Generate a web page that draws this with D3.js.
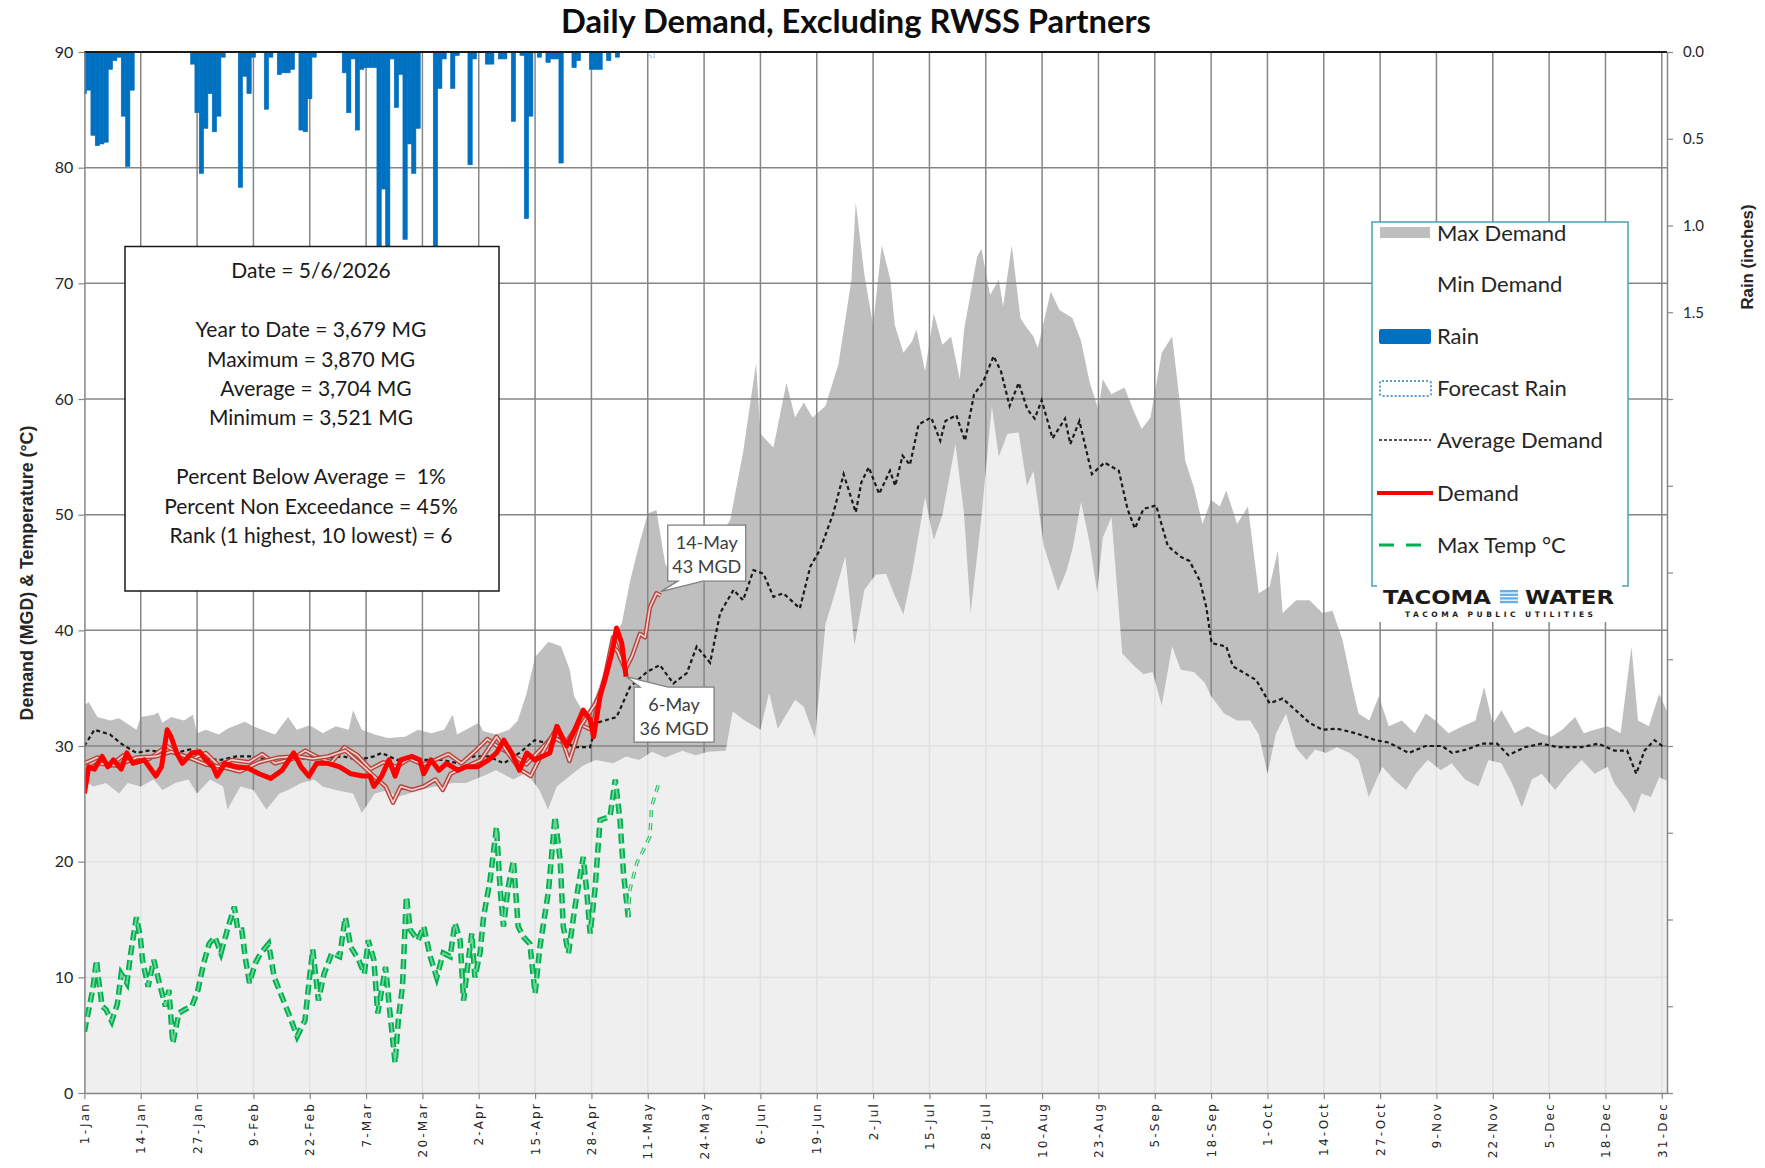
<!DOCTYPE html>
<html>
<head>
<meta charset="utf-8">
<title>Daily Demand, Excluding RWSS Partners</title>
<script src="https://cdn.jsdelivr.net/npm/d3@7"></script>
<style>
    body { margin: 0; background: #fff; }
    svg { display: block; font-family: Lato, 'Open Sans', sans-serif; }
</style>
</head>
<body>
<div id="chart"></div>
<script>
// x values are day of year, 0 = 1-Jan
const tickLabels = ['1-Jan', '14-Jan', '27-Jan', '9-Feb', '22-Feb', '7-Mar', '20-Mar', '2-Apr', '15-Apr',
    '28-Apr', '11-May', '24-May', '6-Jun', '19-Jun', '2-Jul', '15-Jul', '28-Jul', '10-Aug', '23-Aug',
    '5-Sep', '18-Sep', '1-Oct', '14-Oct', '27-Oct', '9-Nov', '22-Nov', '5-Dec', '18-Dec', '31-Dec'];

const maxDemand = [
    [0, 33.5], [1, 33.8], [3, 32.5], [6, 32.2], [8, 32.4], [12, 31.4], [13, 32.5], [16, 32.7], [17, 32.9],
    [18, 32], [20, 32.5], [23, 32.2], [25, 32.7], [26, 31.1], [28, 31.4], [31, 31], [33, 31.5], [37, 32.1],
    [39, 31.7], [41, 31.4], [44, 31], [47, 32.5], [49, 31.4], [52, 31.8], [55, 31.1], [58, 31.7], [61, 31.4],
    [62, 33.1], [64, 31.4], [67, 31], [70, 30.7], [74, 30.8], [77, 31.4], [80, 31.1], [83, 31.4], [85, 32.7],
    [86, 31], [88, 31.4], [91, 32], [92, 31.3], [95, 31], [98, 31.4], [100, 32.2], [102, 34.5], [104, 37.7],
    [107, 39], [108, 38.9], [110, 38.6], [112, 36.6], [113, 34.3], [115, 33], [116, 32.9], [118, 34.3],
    [120, 36.6], [122, 39.2], [124, 40.6], [126, 44.4], [128, 47.4], [130, 50.1], [132, 50.4], [134, 45.8],
    [136, 44.5], [138, 43.8], [140, 44.5], [143, 46], [146, 48], [149, 49.5], [152, 55.4], [155, 63.1],
    [156, 57], [159, 55.8], [162, 61.4], [164, 58.4], [166, 59.7], [168, 58.4], [171, 59.4], [174, 63],
    [177, 70.3], [178, 77], [180, 70.7], [182, 66.4], [184, 73.3], [186, 70.3], [187, 66.4], [189, 64],
    [191, 65], [192, 66], [194, 62.4], [196, 67.4], [198, 64.7], [200, 65.4], [202, 61.7], [203, 66],
    [206, 72.3], [207, 73], [209, 69], [211, 70.3], [212, 68], [214, 73.3], [216, 67], [217, 66.4],
    [219, 65.4], [220, 64.4], [223, 69.3], [225, 67.7], [228, 67], [230, 65], [232, 61.4], [234, 59.1],
    [235, 61.7], [237, 60.4], [240, 61], [242, 59.1], [244, 57.4], [246, 58.4], [248.6, 64], [251, 65.4],
    [253, 59], [254, 54.7], [256, 52.4], [258, 49.2], [260, 51.3], [262, 50.7], [263.5, 52.1], [266, 49.2],
    [268.5, 50.7], [271, 43.2], [273.5, 43.8], [275.4, 46.9], [276.5, 41.5], [279.6, 42.6], [282.7, 42.6],
    [285.7, 41.5], [288, 41.7], [290.3, 39.2], [292.6, 35.1], [294, 32.8], [296.5, 32.2], [298.7, 34.3],
    [301, 31.7], [304, 32.2], [307, 31.1], [309.5, 32.8], [311.7, 32.2], [314.8, 31.1], [318, 31.7],
    [321, 32.2], [323, 35.1], [325, 31.9], [327, 33.1], [330, 31.1], [333, 31.7], [336, 31.1], [338.5, 30.8],
    [341, 31.4], [344, 32.5], [346, 31.1], [348.5, 31.4], [351.5, 31.7], [354.5, 31.1], [357, 38.6],
    [358.5, 32.2], [361, 31.7], [363.4, 34.5], [365.2, 33]
];

const minDemand = [
    [0, 27.1], [2, 26.5], [5, 26.8], [8, 25.9], [10, 26.8], [13, 26.5], [16, 27.1], [18, 26.2], [21, 26.8],
    [24, 27.1], [26, 25.9], [29, 27.1], [32, 26.5], [33, 24.5], [36, 26.5], [39, 26.2], [42, 24.5], [45, 25.9],
    [47, 26.2], [50, 26.8], [53, 27.1], [55, 26.5], [58, 26.2], [62, 25.9], [64, 24.2], [67, 25.9], [70, 26.2],
    [72, 25.6], [75, 25.9], [77, 26.2], [81, 26.5], [85, 26.8], [88, 26.8], [92, 27.4], [95, 27.9], [99, 27.1],
    [102, 27.7], [105, 26.2], [107, 24.5], [109, 26.5], [112, 27.4], [115, 28.3], [118, 28.8], [122, 28.5],
    [125, 29.1], [128, 28.8], [131, 29.5], [134, 29], [138, 29.6], [141, 29.2], [144, 29.5], [148, 29.6],
    [149.6, 33], [152, 32.3], [156, 31.4], [158, 34.6], [160, 31.5], [164, 34], [166, 33.4], [168.6, 30.7],
    [171, 40.5], [173, 43], [175.6, 46.4], [177.7, 38.7], [180, 43.5], [182.6, 44.8], [185, 44.9], [187, 43],
    [189, 41.4], [191, 45], [194, 51.5], [196, 47.8], [198, 50], [201, 56.1], [203, 50], [204.5, 41.5],
    [207, 49.8], [209.4, 59.4], [211, 55], [213, 57], [215.6, 57.1], [217.5, 52.5], [219, 53.8], [221.4, 47.3],
    [224.7, 43.4], [226.5, 45], [228, 47], [230, 51.1], [232, 47.5], [233.7, 43.3], [235, 48], [237, 49.8],
    [239.5, 38], [242, 37], [244.4, 36.2], [246.5, 36.4], [248.6, 33.5], [251, 38.6], [253, 36.6], [256, 36.4],
    [258.5, 35.5], [260, 34.3], [263, 32.8], [266, 32.2], [269, 32.2], [271, 31], [273, 27.6], [275, 31.1],
    [277.3, 32.8], [279.5, 29.9], [282, 28.8], [284, 29.7], [286.5, 29.4], [289, 29.9], [292, 29.4], [294, 28.8],
    [296.4, 25.6], [299.5, 28.2], [302.5, 27], [305, 26.2], [307.2, 27.6], [310, 28.8], [313, 27.9],
    [315.5, 28.5], [318.6, 27.1], [321.7, 26.5], [324, 28.8], [327, 28.5], [329.4, 26.8], [331.7, 24.7],
    [334, 27.1], [336.3, 27.6], [339.4, 26.2], [342.4, 27.6], [345.5, 28.8], [348.5, 27.6], [351.5, 28.2],
    [353, 26.8], [356, 25.3], [357.7, 24.2], [359.3, 25.9], [361.5, 25.6], [363.4, 27.3], [365.2, 27]
];

const avgDemand = [
    [0, 30], [2.3, 31.4], [5.9, 31], [8.5, 30.2], [12, 29.4], [14.7, 29.6], [18.2, 29.5], [20.9, 29.4],
    [24.4, 29.7], [28, 28.9], [31.5, 28.8], [35, 29.1], [38.5, 29.1], [42, 28.8], [45.6, 29.1], [49.1, 28.8],
    [52.7, 29.1], [56.2, 29], [59.7, 29.1], [63.3, 28.8], [66.8, 29.1], [68.6, 29.4], [72.1, 28.8], [75.6, 28.8],
    [79.2, 28.8], [82.7, 28.8], [86.2, 28.5], [89.8, 29.1], [93.3, 29.1], [96.8, 28.5], [100.4, 29.4],
    [103.9, 30.5], [107.4, 30.2], [110.1, 30.8], [112.8, 29.9], [116.7, 29.9], [118.2, 32], [122.8, 32.5],
    [125.9, 35.1], [129.8, 36.4], [132.8, 37], [135.9, 35.4], [139, 36.3], [141.3, 38.6], [144.4, 37.2],
    [146.7, 41.5], [149.8, 43.5], [152, 42.6], [154.4, 45.2], [156.7, 44.9], [159, 42.9], [161.3, 43.2],
    [165.1, 41.9], [167.5, 45.5], [169.8, 47], [172.8, 50.1], [175.2, 53.5], [178, 50.2], [179.3, 52.8],
    [181, 54.1], [183.4, 51.8], [185.9, 53.8], [187.1, 52.5], [188.8, 55.1], [190.5, 54.3], [192.5, 57.8],
    [195.4, 58.4], [197.5, 56.4], [198.7, 58.1], [201.2, 58.6], [203.2, 56.4], [205.3, 60.4], [207.3, 61.4],
    [209.8, 63.7], [211.5, 62.4], [213.5, 59.4], [215.6, 61.4], [217.6, 59.1], [219.3, 58.3], [220.9, 59.9],
    [223.4, 56.6], [226.3, 58.3], [227.5, 56.1], [229.6, 58.1], [232.5, 53.5], [235.4, 54.5], [238.7, 53.8],
    [240.7, 50.5], [242.4, 48.8], [244.4, 50.5], [247.3, 50.8], [250, 47.3], [252.8, 46.4], [255, 46],
    [257.4, 44.3], [258.9, 42], [260.1, 38.9], [263.5, 38.6], [265, 36.9], [270.4, 35.7], [273.5, 33.7],
    [276.5, 34.1], [280.4, 32.8], [282.7, 32], [285.7, 31.4], [289, 31.5], [293.4, 31.1], [298, 30.5],
    [301, 30.3], [305.6, 29.4], [309.5, 30], [313.3, 30], [315.6, 29.4], [319, 29.7], [322.5, 30.2],
    [326, 30.2], [328.6, 29.2], [332.4, 29.9], [336.3, 30.2], [340, 29.9], [345.5, 29.9], [349.3, 30.2],
    [353.1, 29.6], [356, 29.6], [358.1, 27.6], [360, 29.6], [362.3, 30.5], [364.5, 29.9]
];

const demand = [
    [0, 25.9], [1, 28.2], [2.3, 28], [4.1, 29.1], [5.4, 28.2], [6.7, 28.8], [8.5, 28], [9.8, 29.4], [11.2, 28.5],
    [13.8, 28.8], [16.5, 27.4], [17.8, 28.2], [19.1, 31.4], [20, 30.8], [21.3, 29.4], [22.6, 28.5], [24.8, 29.4],
    [26.6, 29.5], [28, 28.8], [29.7, 28.2], [30.6, 27.4], [32.4, 28.5], [35, 28.2], [37.7, 28.1], [40.3, 27.6],
    [43, 27.2], [45.6, 27.9], [48.3, 29.4], [50, 28.2], [51.8, 27.4], [53.6, 28.5], [56.2, 28.5], [58.9, 28.2],
    [61.5, 27.6], [64.2, 27.4], [65.9, 27.4], [66.8, 26.5], [68.6, 27.4], [70.3, 28.8], [71.7, 27.4], [73, 28.8],
    [75.6, 29.1], [77.4, 28.8], [78.3, 27.6], [80, 28.8], [81.8, 27.9], [83.6, 28.5], [86.2, 27.9], [88, 28.2],
    [90.7, 28.2], [93.3, 28.8], [95.1, 29.4], [96.8, 30.5], [98.6, 29.4], [100.4, 27.9], [102.1, 29.4],
    [103.9, 28.8], [107.4, 29.4], [109, 31.7], [111.3, 30], [112.8, 31.1], [115.1, 33.1], [116.7, 32.3],
    [117.5, 30.8], [119, 34.3], [120.5, 36.3], [121.7, 38], [122.8, 40.2], [124, 38.9], [125, 36]
];

// outlined demand traces (one runs on to the 14-May forecast)
const forecastDemand = [
    [0, 27.8], [3.2, 28.5], [7.6, 28.3], [12, 29], [16.5, 29.1], [20, 29.5], [23.5, 29.1], [28, 28.4],
    [31.5, 28.2], [35.9, 27.8], [40.3, 28.6], [44.7, 29], [49.1, 29.1], [52.7, 28.9], [56.2, 29.1], [60.2, 29.6],
    [64.2, 28.3], [66.8, 27.4], [69.5, 26.5], [71.2, 25.1], [73, 26.5], [75.6, 26.2], [78.3, 26.5], [81, 27.1],
    [82.7, 26.2], [84.5, 27.6], [88, 28.2], [91.5, 28.8], [95.1, 30.8], [96.8, 29.9], [100.4, 28], [103, 27.4],
    [105.7, 29.4], [109.2, 31.7], [111.9, 28.7], [114.5, 31.7], [118, 33.7], [120, 35.5], [122, 38.6],
    [123, 38.2], [124.8, 36.6], [126.3, 37.7], [128.2, 39.7], [129.4, 39.4], [130.5, 42], [132, 43.2], [133, 43]
];
const lastYearDemand = [
    [0, 28.5], [3, 29], [6, 28.3], [9, 29.2], [12, 28.6], [15, 28.9], [19, 30], [22, 29.2], [25, 28.9],
    [28, 29.4], [31, 28.3], [34, 28.8], [38, 28.6], [41, 29.3], [44, 28.5], [48, 28.9], [51, 29.6], [54, 29],
    [57, 28.6], [60, 29.9], [63, 29.2], [66, 28], [69, 28.6], [72, 28.2], [75, 28.9], [78, 28.4], [81, 28.8],
    [84, 29.3], [87, 28.5], [90, 29.5], [93, 30.6], [96, 29.8], [99, 29.2], [102, 28.4], [105, 29.6],
    [108, 30.8], [111, 30.2], [114, 31.9], [117, 31.4], [120, 35.8], [122, 39.4], [123.5, 38], [125, 36.5]
];

const maxTemp = [
    [0, 5.3], [1, 7.2], [1.9, 8.9], [2.8, 11.5], [3.2, 10], [4.1, 7.5], [5, 7.2], [6.3, 6.2], [7.6, 7.7],
    [8.5, 10.3], [9.8, 9.5], [10.7, 12.1], [12, 15.2], [12.9, 13.5], [13.4, 11.5], [14.7, 9.2], [16, 11.5],
    [17.3, 9.5], [18.7, 7.5], [19.5, 8.9], [20.4, 4.3], [21.8, 6.9], [23.1, 7.2], [24.8, 7.5], [26.2, 8.9],
    [27.5, 11.2], [28.8, 12.9], [30.1, 13.5], [31.5, 12.1], [33.2, 14.4], [34.6, 16.1], [35.4, 14.1],
    [36.3, 14.1], [37.2, 11.5], [38.1, 9.5], [39.4, 11.2], [40.7, 12.1], [42.5, 12.9], [43.8, 10], [45.6, 8.3],
    [47.4, 6.6], [49.1, 4.9], [50.9, 6.3], [51.8, 9.5], [52.7, 12.4], [54, 8], [55.3, 10.3], [57.1, 12.1],
    [58.9, 11.8], [60.2, 15.2], [61.5, 12.6], [63.3, 11.5], [64.6, 10.3], [65.5, 13.2], [66.8, 11.5],
    [67.7, 6.9], [69.5, 10.9], [70.3, 7.7], [71.7, 2.6], [72.5, 6.6], [73.4, 9.2], [74.3, 17], [75.2, 14.1],
    [77, 13.2], [78.3, 14.4], [79.8, 11.8], [81.3, 10], [82.8, 12.1], [84.4, 11.8], [85.5, 14.7], [86.7, 13.2],
    [87.5, 8], [88.6, 11.5], [89.4, 13.8], [90.1, 10], [91.3, 12.1], [92.1, 15.2], [93.6, 18.4], [95.1, 23],
    [95.9, 17.8], [96.7, 14.4], [97.8, 17.8], [99, 20.1], [100.1, 14.4], [101.3, 13.5], [102.8, 12.9],
    [104, 8.6], [105.1, 12.6], [107.1, 17.5], [108.6, 23.9], [109.8, 20.1], [110.5, 14.4], [111.7, 12.1],
    [113.2, 16.1], [115.1, 20.4], [115.9, 17.5], [116.7, 13.8], [117.8, 17.5], [119, 23.6], [121.3, 23.9],
    [122.5, 27.1], [123.6, 23.6], [124.4, 19], [125.5, 15.2]
];
const forecastTemp = [[125.5, 15.2], [125.9, 17.6], [127.5, 19.9], [129, 21], [130.5, 22.2], [130.9, 24.8], [132.4, 26.6]];

// rain in inches per day
const rain = [
    [0, 0.24], [1, 0.22], [2, 0.48], [3, 0.54], [4, 0.53], [5, 0.52], [6, 0.1], [7, 0.05], [8, 0.03], [9, 0.37],
    [10, 0.66], [11, 0.22], [25, 0.07], [26, 0.35], [27, 0.7], [28, 0.44], [29, 0.24], [30, 0.46], [31, 0.37],
    [32, 0.03], [36, 0.78], [37, 0.14], [38, 0.24], [39, 0.03], [42, 0.33], [43, 0.03], [45, 0.13], [46, 0.12],
    [47, 0.12], [48, 0.1], [50, 0.45], [51, 0.46], [52, 0.27], [53, 0.03], [60, 0.12], [61, 0.35], [62, 0.04],
    [63, 0.45], [64, 0.1], [65, 0.09], [66, 0.09], [67, 0.09], [68, 1.35], [69, 0.79], [70, 1.3], [71, 0.04],
    [72, 0.32], [73, 0.13], [74, 1.08], [75, 0.53], [76, 0.7], [77, 0.44], [81, 1.25], [82, 0.21], [83, 0.04],
    [85, 0.21], [86, 0.02], [89, 0.65], [90, 0.04], [93, 0.07], [94, 0.07], [96, 0.04], [97, 0.04], [99, 0.4],
    [101, 0.02], [102, 0.96], [103, 0.37], [105, 0.03], [107, 0.06], [108, 0.04], [109, 0.04], [110, 0.64],
    [113, 0.09], [114, 0.05], [117, 0.1], [118, 0.1], [119, 0.1], [121, 0.05], [123, 0.03]
];
const forecastRain = [[131, 0.03]];

const infoLines = ['Date = 5/6/2026', '', 'Year to Date = 3,679 MG', 'Maximum = 3,870 MG', '  Average = 3,704 MG',
    'Minimum = 3,521 MG', '', 'Percent Below Average =  1%', 'Percent Non Exceedance = 45%',
    'Rank (1 highest, 10 lowest) = 6'];
const callouts = [
    { day: 133, value: 43, label: ['14-May', '43 MGD'] },
    { day: 125, value: 36, label: ['6-May', '36 MGD'] }
];
const legendLabels = ['Max Demand', 'Min Demand', 'Rain', 'Forecast Rain', 'Average Demand', 'Demand', 'Max Temp °C'];

const chartWidth = 1765;
const chartHeight = 1168;
const plot = { left: 84.4, right: 1667, top: 52, bottom: 1093 };
const gridColor = '#868686';

const svg = d3.select('#chart')
    .append('svg')
    .attr('width', chartWidth)
    .attr('height', chartHeight);

// scales
const xScale = d3.scaleLinear()
    .domain([0, 365.2])
    .range([plot.left, plot.right]);

const yScale = d3.scaleLinear()
    .domain([0, 90])
    .range([plot.bottom, plot.top]);

// rain axis runs downward from the top
const rainScale = d3.scaleLinear()
    .domain([0, 6])
    .range([plot.top, plot.bottom]);

svg.append('clipPath')
    .attr('id', 'plot-clip')
    .append('rect')
    .attr('x', plot.left)
    .attr('y', plot.top)
    .attr('width', plot.right - plot.left)
    .attr('height', plot.bottom - plot.top);

const area = d3.area()
    .x((d) => xScale(d[0]))
    .y0(yScale(0))
    .y1((d) => yScale(d[1]));

const line = d3.line()
    .x((d) => xScale(d[0]))
    .y((d) => yScale(d[1]));

const g = svg.append('g').attr('clip-path', 'url(#plot-clip)');

g.append('path')
    .datum(maxDemand)
    .attr('d', area)
    .attr('fill', '#bfbfbf');

// grid
const tickDays = tickLabels.map((d, i) => i * 13);

g.append('g').selectAll('line')
    .data(tickDays.slice(1))
    .enter()
    .append('line')
    .attr('x1', (d) => xScale(d))
    .attr('x2', (d) => xScale(d))
    .attr('y1', plot.top)
    .attr('y2', plot.bottom)
    .attr('stroke', gridColor)
    .attr('stroke-width', 1.5);

g.append('g').selectAll('line')
    .data(d3.range(10, 90, 10))
    .enter()
    .append('line')
    .attr('x1', plot.left)
    .attr('x2', plot.right)
    .attr('y1', (d) => yScale(d))
    .attr('y2', (d) => yScale(d))
    .attr('stroke', gridColor)
    .attr('stroke-width', 1.5);

// min demand washes the lower part out
g.append('path')
    .datum(minDemand)
    .attr('d', area)
    .attr('fill', '#fff')
    .attr('fill-opacity', 0.75);

const barW = xScale(1) - xScale(0);

g.append('g').selectAll('rect')
    .data(rain)
    .enter()
    .append('rect')
    .attr('x', (d) => xScale(d[0]) - barW / 2)
    .attr('y', rainScale(0))
    .attr('width', barW)
    .attr('height', (d) => rainScale(d[1]) - rainScale(0))
    .attr('fill', '#0070c0')
    .attr('stroke', '#0070c0')
    .attr('stroke-width', 0.6);

g.append('g').selectAll('rect')
    .data(forecastRain)
    .enter()
    .append('rect')
    .attr('x', (d) => xScale(d[0]) - barW / 2)
    .attr('y', rainScale(0))
    .attr('width', barW)
    .attr('height', (d) => rainScale(d[1]) - rainScale(0))
    .attr('fill', 'none')
    .attr('stroke', '#5b9bd5')
    .attr('stroke-dasharray', '1.5,1.5');

// temperature, dashed with a light core
g.append('path')
    .datum(maxTemp)
    .attr('d', line)
    .attr('fill', 'none')
    .attr('stroke', '#00b050')
    .attr('stroke-width', 5.5)
    .attr('stroke-dasharray', '10,5');
g.append('path')
    .datum(maxTemp)
    .attr('d', line)
    .attr('fill', 'none')
    .attr('stroke', '#6fd596')
    .attr('stroke-width', 1.8)
    .attr('stroke-dasharray', '10,5');
g.append('path')
    .datum(forecastTemp)
    .attr('d', line)
    .attr('fill', 'none')
    .attr('stroke', '#2fc06a')
    .attr('stroke-width', 3.5)
    .attr('stroke-dasharray', '7,6');
g.append('path')
    .datum(forecastTemp)
    .attr('d', line)
    .attr('fill', 'none')
    .attr('stroke', '#d4f3df')
    .attr('stroke-width', 1.2)
    .attr('stroke-dasharray', '7,6');

g.append('path')
    .datum(avgDemand)
    .attr('d', line)
    .attr('fill', 'none')
    .attr('stroke', '#1a1a1a')
    .attr('stroke-width', 2.2)
    .attr('stroke-dasharray', '4,3');

[lastYearDemand, forecastDemand].forEach((series) => {
    g.append('path')
        .datum(series)
        .attr('d', line)
        .attr('fill', 'none')
        .attr('stroke', '#b5463f')
        .attr('stroke-width', 4.5)
        .attr('stroke-linejoin', 'round');
    g.append('path')
        .datum(series)
        .attr('d', line)
        .attr('fill', 'none')
        .attr('stroke', '#f6d2cf')
        .attr('stroke-width', 1.6)
        .attr('stroke-linejoin', 'round');
});

g.append('path')
    .datum(demand)
    .attr('d', line)
    .attr('fill', 'none')
    .attr('stroke', '#ff0000')
    .attr('stroke-width', 5)
    .attr('stroke-linejoin', 'round');

svg.append('line')
    .attr('x1', plot.left)
    .attr('x2', plot.right)
    .attr('y1', plot.top)
    .attr('y2', plot.top)
    .attr('stroke', '#1a1a1a')
    .attr('stroke-width', 2);

// axes
const styleAxis = (sel) => {
    sel.selectAll('.domain').attr('stroke', gridColor).attr('stroke-width', 1.5);
    sel.selectAll('.tick line').attr('stroke', gridColor).attr('stroke-width', 1.2);
    sel.selectAll('text').attr('fill', '#262626');
};

svg.append('g')
    .attr('transform', `translate(${plot.left}, 0)`)
    .call(d3.axisLeft(yScale).tickValues(d3.range(0, 91, 10)).tickSize(6).tickSizeOuter(0).tickPadding(5))
    .call(styleAxis)
    .selectAll('text')
    .attr('font-family', 'Lato, sans-serif')
    .attr('font-size', 16);

svg.append('g')
    .attr('transform', `translate(${plot.right}, 0)`)
    .call(d3.axisRight(rainScale)
        .tickValues(d3.range(0, 6.01, 0.5))
        .tickFormat((d) => (d <= 1.5 ? d3.format('.1f')(d) : ''))
        .tickSize(6)
        .tickSizeOuter(0)
        .tickPadding(10))
    .call(styleAxis)
    .selectAll('text')
    .attr('font-family', 'Lato, sans-serif')
    .attr('font-size', 15);

svg.append('g')
    .attr('transform', `translate(0, ${plot.bottom})`)
    .call(d3.axisBottom(xScale)
        .tickValues(tickDays)
        .tickFormat((d, i) => tickLabels[i])
        .tickSize(6)
        .tickSizeOuter(0))
    .call(styleAxis)
    .selectAll('text')
    .attr('font-family', 'DejaVu Sans, sans-serif')
    .attr('font-size', 12)
    .style('letter-spacing', '2.2px')
    .attr('transform', 'rotate(-90)')
    .attr('x', -9)
    .attr('y', 0)
    .attr('dy', '0.35em')
    .style('text-anchor', 'end');

// stretch a text so its width matches the reference
const fitWidth = (sel, w) => {
    const cur = sel.node().getComputedTextLength();
    sel.attr('font-size', parseFloat(sel.attr('font-size')) * w / cur);
};

svg.append('text')
    .attr('x', 856)
    .attr('y', 33)
    .attr('text-anchor', 'middle')
    .attr('font-size', 28)
    .attr('font-weight', 'bold')
    .attr('fill', '#0d0d0d')
    .text('Daily Demand, Excluding RWSS Partners')
    .call(fitWidth, 590);

svg.append('text')
    .attr('transform', 'translate(33, 573) rotate(-90)')
    .attr('text-anchor', 'middle')
    .attr('font-family', 'Liberation Sans, Arial, sans-serif')
    .attr('font-size', 15)
    .attr('font-weight', 'bold')
    .attr('fill', '#262626')
    .text('Demand (MGD) & Temperature (°C)')
    .call(fitWidth, 295);

svg.append('text')
    .attr('transform', 'translate(1753, 257) rotate(-90)')
    .attr('text-anchor', 'middle')
    .attr('font-family', 'Liberation Sans, Arial, sans-serif')
    .attr('font-size', 14)
    .attr('font-weight', 'bold')
    .attr('fill', '#262626')
    .text('Rain (inches)')
    .call(fitWidth, 105);

// info box
svg.append('rect')
    .attr('x', 125)
    .attr('y', 246.5)
    .attr('width', 374)
    .attr('height', 344.5)
    .attr('fill', '#fff')
    .attr('stroke', '#1a1a1a')
    .attr('stroke-width', 1.5);

const info = svg.append('g')
    .attr('font-size', 21)
    .attr('fill', '#1a1a1a')
    .attr('text-anchor', 'middle');

// keep the double spaces the workbook uses
info.selectAll('text')
    .data(infoLines)
    .enter()
    .append('text')
    .attr('x', 311)
    .attr('y', (d, i) => 271 + i * 29.4)
    .attr('dy', '0.35em')
    .text((d) => d.replace(/ {2}/g, '\u00a0\u00a0'));

// callouts
callouts.forEach((c, i) => {
    const ax = xScale(c.day);
    const ay = yScale(c.value);
    let box;
    let shape;
    if (i === 0) {
        box = { x: ax + 7, y: ay - 70.5, w: 78, h: 56 };
        shape = `M${box.x},${box.y}H${box.x + box.w}V${box.y + box.h}H${ax + 42}L${ax},${ay - 4}`
            + `L${ax + 17},${box.y + box.h}H${box.x}Z`;
    } else {
        box = { x: ax + 8, y: ay + 10.5, w: 80, h: 55 };
        shape = `M${box.x},${box.y}H${ax + 14}L${ax},${ay}L${ax + 42},${box.y}H${box.x + box.w}`
            + `V${box.y + box.h}H${box.x}Z`;
    }
    svg.append('path')
        .attr('d', shape)
        .attr('fill', '#fff')
        .attr('stroke', '#7f7f7f')
        .attr('stroke-width', 1.3);
    svg.append('g')
        .selectAll('text')
        .data(c.label)
        .enter()
        .append('text')
        .attr('x', box.x + box.w / 2)
        .attr('y', (d, j) => box.y + 17.5 + j * 24)
        .attr('dy', '0.35em')
        .attr('text-anchor', 'middle')
        .attr('font-size', 18)
        .attr('fill', '#404040')
        .text((d) => d);
});

// legend
svg.append('rect')
    .attr('x', 1372)
    .attr('y', 222)
    .attr('width', 256)
    .attr('height', 364)
    .attr('fill', '#fff')
    .attr('stroke', '#4f9fb8')
    .attr('stroke-width', 1.5);

const legendY = [233, 284, 336, 388, 440, 493, 545];
const legend = svg.append('g');

legend.selectAll('text')
    .data(legendLabels)
    .enter()
    .append('text')
    .attr('x', 1437)
    .attr('y', (d, i) => legendY[i])
    .attr('dy', '0.35em')
    .attr('font-size', 22)
    .attr('fill', '#262626')
    .text((d) => d);

legend.append('rect').attr('x', 1380).attr('y', legendY[0] - 6).attr('width', 50).attr('height', 11)
    .attr('fill', '#bfbfbf');
legend.append('rect').attr('x', 1379).attr('y', legendY[2] - 7).attr('width', 52).attr('height', 15)
    .attr('rx', 2).attr('fill', '#0070c0');
legend.append('rect').attr('x', 1380).attr('y', legendY[3] - 7).attr('width', 51).attr('height', 15)
    .attr('rx', 2).attr('fill', 'none').attr('stroke', '#5b9bd5').attr('stroke-width', 2)
    .attr('stroke-dasharray', '2,2');
legend.append('line').attr('x1', 1379).attr('x2', 1431).attr('y1', legendY[4]).attr('y2', legendY[4])
    .attr('stroke', '#1a1a1a').attr('stroke-width', 1.5).attr('stroke-dasharray', '3,2');
legend.append('line').attr('x1', 1377).attr('x2', 1433).attr('y1', legendY[5]).attr('y2', legendY[5])
    .attr('stroke', '#ff0000').attr('stroke-width', 4);
legend.append('line').attr('x1', 1379).attr('x2', 1432).attr('y1', legendY[6]).attr('y2', legendY[6])
    .attr('stroke', '#00b050').attr('stroke-width', 3).attr('stroke-dasharray', '15,12');

// logo
svg.append('rect')
    .attr('x', 1377)
    .attr('y', 580)
    .attr('width', 245)
    .attr('height', 42)
    .attr('fill', '#fff');

const logo = svg.append('g')
    .attr('font-family', 'DejaVu Sans, sans-serif')
    .attr('font-weight', 'bold')
    .attr('fill', '#1a1a1a');

logo.append('text').attr('x', 1383).attr('y', 604).attr('font-size', 19)
    .attr('textLength', 108).attr('lengthAdjust', 'spacingAndGlyphs').text('TACOMA');
logo.append('text').attr('x', 1525).attr('y', 604).attr('font-size', 19)
    .attr('textLength', 89).attr('lengthAdjust', 'spacingAndGlyphs').text('WATER');
logo.append('text').attr('x', 1405).attr('y', 617).attr('font-size', 7.5)
    .attr('textLength', 188).attr('lengthAdjust', 'spacing').text('TACOMA PUBLIC UTILITIES');
logo.selectAll('rect')
    .data(d3.range(4))
    .enter()
    .append('rect')
    .attr('x', 1500)
    .attr('y', (d) => 590 + d * 3.6)
    .attr('width', 18)
    .attr('height', 2.4)
    .attr('fill', '#6aaee6');
</script>
</body>
</html>
